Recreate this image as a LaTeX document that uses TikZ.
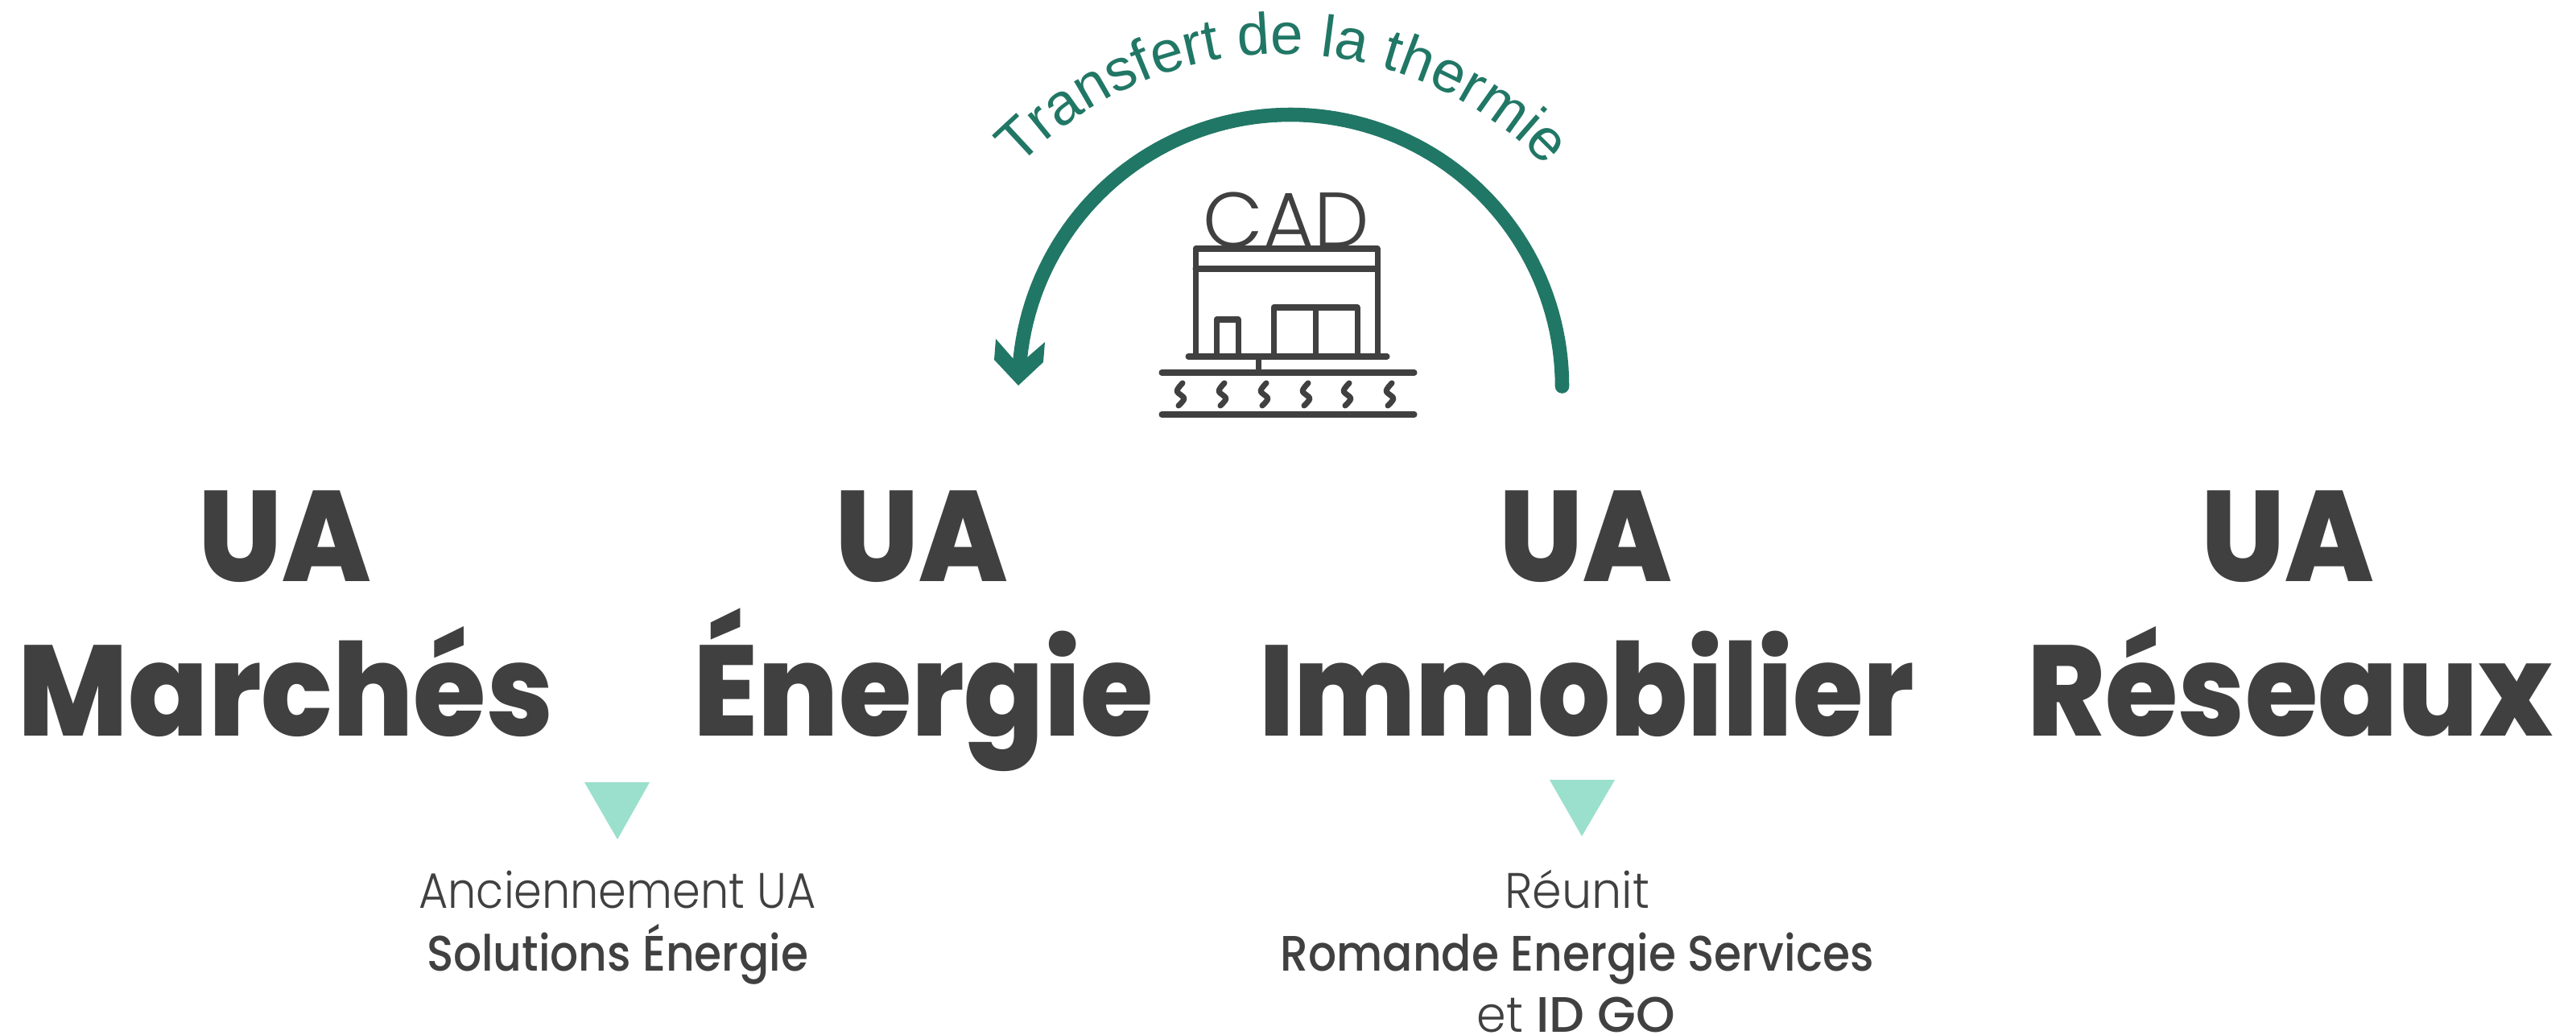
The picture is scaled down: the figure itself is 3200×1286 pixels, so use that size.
\documentclass[tikz,border=0pt]{standalone}
\usepackage{fontspec}
\usetikzlibrary{decorations.text}
\setmainfont{Poppins}
\newfontfamily\plight{Poppins Light}[FakeStretch=0.9]
\newfontfamily\plightw{Poppins Light}[FakeStretch=0.95]
\newfontfamily\pcad{Poppins Light}
\newfontfamily\pmed{Poppins Medium}[FakeStretch=0.89]
\newfontfamily\pmedw{Poppins Medium}
\newfontfamily\pbold{Poppins ExtraBold}[FakeStretch=0.915]
\newfontfamily\pboldn{Poppins ExtraBold}[FakeStretch=0.885]
\newfontfamily\arialf{Liberation Sans}
\definecolor{ink}{HTML}{404040}
\definecolor{teal}{HTML}{217765}
\definecolor{mint}{HTML}{9BE0CC}
\tikzset{
  big/.style={anchor=base,text=ink,inner sep=0pt,font=\pbold\fontsize{45.5}{45.5}\selectfont},
  bign/.style={anchor=base,text=ink,inner sep=0pt,font=\pboldn\fontsize{45.5}{45.5}\selectfont},
  small/.style={anchor=base,text=ink,inner sep=0pt,font=\plight\fontsize{17.6}{17.6}\selectfont},
  smallw/.style={anchor=base,text=ink,inner sep=0pt,font=\plightw\fontsize{17.6}{17.6}\selectfont},
  smallb/.style={anchor=base,text=ink,inner sep=0pt,font=\pmed\fontsize{17.6}{17.6}\selectfont},
  icon/.style={draw=ink,line width=2pt,line cap=round,line join=round},
  tri/.style={fill=mint,draw=none},
}
\begin{document}
\begin{tikzpicture}[x=0.01cm,y=-0.01cm]
\useasboundingbox (0,0) rectangle (3200,1286);
% arc
\draw[teal,line width=5pt,line cap=round] plot[domain=0:174,samples=90] ({1603+337.5*cos(\x)},{480-337.5*sin(\x)});
\fill[teal] (1265,479) -- (1235,447) -- (1237,421) -- (1258,445) -- (1275,445) -- (1298,425) -- (1296,450) -- cycle;
\path[decorate,decoration={text along path,text align=center,text={|\arialf\fontsize{20.7}{20.7}\selectfont\color{teal}|Transfert de la thermie}}]
  plot[domain=-55:55,samples=60] ({1593+452*sin(\x)},{519-452*cos(\x)});
% CAD
\node[anchor=base,text=ink,inner sep=0pt,font=\pcad\fontsize{27.6}{27.6}\selectfont] (cad) at (1598,308) {CAD};
% building
\draw[icon,fill=white] (1485,309) rectangle (1711,443);
\draw[icon] (1485,334) -- (1711,334);
\draw[icon] (1511,443) -- (1511,397) -- (1538,397) -- (1538,443);
\draw[icon] (1582,443) -- (1582,382) -- (1686,382) -- (1686,443);
\draw[icon] (1634,382) -- (1634,443);
\draw[icon] (1476,443) -- (1723,443);
\draw[icon] (1563,443) -- (1563,463);
\draw[icon] (1443,463) -- (1757,463);
\draw[icon] (1443,515) -- (1757,515);
\foreach \q in {1466,1518,1570,1622,1673,1726}
  \draw[icon] plot[smooth] coordinates {(\q+3,476) (\q-4,486) (\q+5,495) (\q-2,504)};
% labels
\node[big] (ua1) at (354,723) {UA};
\node[big] (w1) at (355,915) {Marchés};
\node[big] (ua2) at (1145,723) {UA};
\node[big] (w2) at (1147,915) {Énergie};
\node[big] (ua3) at (1970,723) {UA};
\node[bign] (w3) at (1971,915) {Immobilier};
\node[big] (ua4) at (2842,723) {UA};
\node[big] (w4) at (2845,915) {Réseaux};
% triangles
\fill[tri] (726,972) -- (807,972) -- (767,1043) -- cycle;
\fill[tri] (1925,969) -- (2006,969) -- (1965,1039) -- cycle;
% sub text
\node[small] (s1) at (767,1128) {Anciennement UA};
\node[smallb] (s2) at (767,1206) {Solutions Énergie};
\node[smallw] (s3) at (1959,1128) {Réunit};
\node[smallb] (s4) at (1959,1206) {Romande Energie Services};
\node[smallw] (s5) at (1958,1282) {et {\pmedw ID GO}};
\end{tikzpicture}
\end{document}
